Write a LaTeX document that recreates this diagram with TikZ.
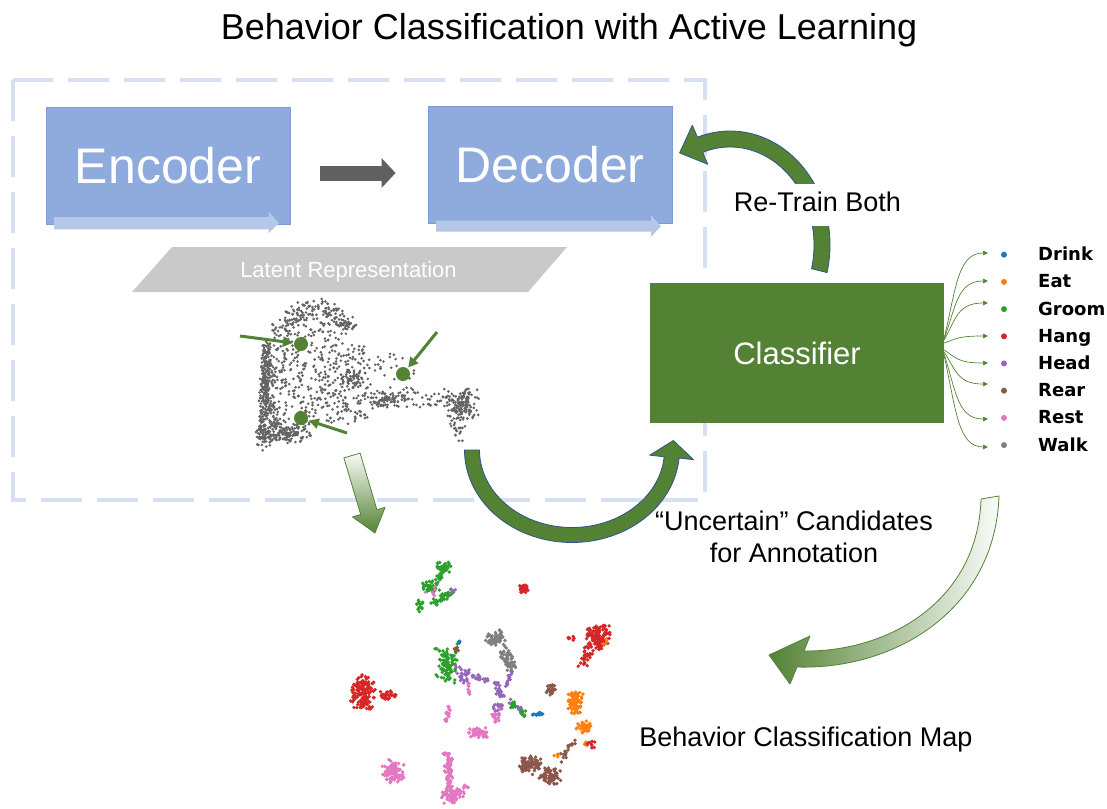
\documentclass[tikz,border=0pt]{standalone}
\usepackage{fontspec}
\setmainfont{Liberation Sans}
\newfontfamily\legendfont{DejaVu Sans}
\usetikzlibrary{arrows.meta,calc}

\definecolor{leafgreen}{HTML}{548235}
\definecolor{rimblue}{HTML}{2F528F}
\definecolor{boxblue}{HTML}{8FAADC}
\definecolor{boxedge}{HTML}{7E9CD3}
\definecolor{barblue}{HTML}{B4C7E7}
\definecolor{frameblue}{HTML}{D6E0F2}
\definecolor{latentgray}{HTML}{C9C9C9}
\definecolor{cloudgray}{HTML}{636363}
\definecolor{arrowgray}{HTML}{606060}
\definecolor{tabblue}{HTML}{1F77B4}
\definecolor{taborange}{HTML}{FF7F0E}
\definecolor{tabgreen}{HTML}{2CA02C}
\definecolor{tabred}{HTML}{D62728}
\definecolor{tabpurple}{HTML}{9467BD}
\definecolor{tabbrown}{HTML}{8C564B}
\definecolor{tabpink}{HTML}{E377C2}
\definecolor{tabgray}{HTML}{7F7F7F}

% random point clouds; dot radius taken from \dotr
\def\dotr{1.3}
% colour, count, centre x, centre y, spread x, spread y (peaked)
\newcommand{\cloud}[6]{%
  \foreach \k in {1,...,#2}{%
    \pgfmathsetmacro\cldx{#3+#5*(rand+rand)*0.7}%
    \pgfmathsetmacro\cldy{#4+#6*(rand+rand)*0.7}%
    \fill[#1] (\cldx,\cldy) circle[radius=\dotr];}}
% colour, count, centre x, centre y, half width, half height (uniform)
\newcommand{\flatcloud}[6]{%
  \foreach \k in {1,...,#2}{%
    \pgfmathsetmacro\cldx{#3+#5*rand}%
    \pgfmathsetmacro\cldy{#4+#6*rand}%
    \fill[#1] (\cldx,\cldy) circle[radius=\dotr];}}
% colour, count, x0, y0, x1, y1, spread (points along a segment)
\newcommand{\linecloud}[7]{%
  \foreach \k in {1,...,#2}{%
    \pgfmathsetmacro\cldt{rnd}%
    \pgfmathsetmacro\cldx{#3+(#5-#3)*\cldt+#7*(rand+rand)*0.7}%
    \pgfmathsetmacro\cldy{#4+(#6-#4)*\cldt+#7*(rand+rand)*0.7}%
    \fill[#1] (\cldx,\cldy) circle[radius=\dotr];}}
% colour, count, cx, cy, radius, angle0, angle1, spread (points along an arc)
\newcommand{\arccloud}[8]{%
  \foreach \k in {1,...,#2}{%
    \pgfmathsetmacro\clda{#6+(#7-#6)*rnd}%
    \pgfmathsetmacro\cldr{#5+#8*(rand+rand)/2}%
    \pgfmathsetmacro\cldx{#3+\cldr*cos(\clda)}%
    \pgfmathsetmacro\cldy{#4+\cldr*sin(\clda)}%
    \fill[#1] (\cldx,\cldy) circle[radius=\dotr];}}

% thick curved arrow along an elliptic arc:
% cx, cy, rx, ry, start angle, end angle, band width, head half width, head length
\newcommand{\bandarrow}[9]{%
  \pgfmathsetmacro\bcx{#1}\pgfmathsetmacro\bcy{#2}%
  \pgfmathsetmacro\brx{#3}\pgfmathsetmacro\bry{#4}%
  \pgfmathsetmacro\ba{#5}\pgfmathsetmacro\bb{#6}%
  \pgfmathsetmacro\bw{(#7)/2}%
  \pgfmathsetmacro\bs{(#6)>(#5) ? 1 : -1}%
  \pgfmathsetmacro\bL{sqrt((\brx*sin(\bb))^2+(\bry*cos(\bb))^2)}%
  \pgfmathsetmacro\btx{\bs*(-\brx*sin(\bb))/\bL}%
  \pgfmathsetmacro\bty{\bs*(\bry*cos(\bb))/\bL}%
  \pgfmathsetmacro\bnx{\bry*cos(\bb)/\bL}%
  \pgfmathsetmacro\bny{\brx*sin(\bb)/\bL}%
  \pgfmathsetmacro\bmx{\bcx+\brx*cos(\bb)}%
  \pgfmathsetmacro\bmy{\bcy+\bry*sin(\bb)}%
  \path[bandarrow]
    plot[domain=\ba:\bb,samples=70] ({\bcx+(\brx+\bw)*cos(\x)},{\bcy+(\bry+\bw)*sin(\x)})
    -- ({\bmx+(#8)*(\bnx)},{\bmy+(#8)*(\bny)})
    -- ({\bmx+(#9)*(\btx)},{\bmy+(#9)*(\bty)})
    -- ({\bmx-(#8)*(\bnx)},{\bmy-(#8)*(\bny)})
    -- plot[domain=\bb:\ba,samples=70] ({\bcx+(\brx-\bw)*cos(\x)},{\bcy+(\bry-\bw)*sin(\x)})
    -- cycle;}

\begin{document}
\begin{tikzpicture}[x=1pt,y=-1pt,
  heading/.style={font=\fontsize{36}{43}\selectfont, anchor=base, inner sep=0pt},
  caption/.style={font=\fontsize{27}{32}\selectfont, anchor=base, inner sep=0pt, align=center},
  netbox/.style={draw=boxedge, line width=0.8pt, fill=boxblue, text=white,
    minimum width=244pt, minimum height=117pt, inner sep=0pt,
    font=\fontsize{50}{60}\selectfont},
  flowbar/.style={fill=barblue},
  clsbox/.style={fill=leafgreen, text=white, minimum width=294pt, minimum height=140pt,
    inner sep=0pt, font=\fontsize{31}{37}\selectfont},
  frame/.style={draw=frameblue, line width=4pt, dash pattern=on 41pt off 15pt},
  bandarrow/.style={fill=leafgreen, draw=rimblue, line width=0.8pt, line join=round},
  fadearrow/.style={draw=leafgreen, line width=0.8pt, line join=round},
  linkarrow/.style={draw=arrowgray, line width=15pt, -{Triangle[length=14pt,width=29pt]}},
  pick/.style={circle, fill=leafgreen, inner sep=0pt, minimum size=14pt},
  pickarrow/.style={draw=leafgreen, line width=3pt, shorten >=1pt,
    -{Triangle[length=10pt,width=10pt]}},
  legendlink/.style={draw=leafgreen, line width=0.7pt, -{Triangle[length=5pt,width=4.5pt]}},
  legenddot/.style={circle, inner sep=0pt, minimum size=6pt},
  legendlabel/.style={font=\legendfont\bfseries\fontsize{18}{22}\selectfont,
    anchor=base west, inner sep=0pt}
]
\useasboundingbox (0,0) rectangle (1107,808);
\pgfmathsetseed{11}

% title
\node[heading] (title) at (569,40) {Behavior Classification with Active Learning};

% dashed frame around the representation learning part
\draw[frame] (13,80) rectangle (705,500);

% encoder / decoder
\node[netbox] (enc) at (168,165.5) {Encoder};
\node[netbox] (dec) at (550,164.5) {Decoder};
\fill[flowbar] (54,217) -- (268.6,217) -- (268.6,211.7) -- (279,223) -- (268.6,233.3)
  -- (268.6,229.3) -- (54,229.3) -- cycle;
\fill[flowbar] (436,220.7) -- (651,220.7) -- (651,215) -- (661,226.2) -- (651,236.7)
  -- (651,231.7) -- (436,231.7) -- cycle;
\draw[linkarrow] ($(enc.east)+(30,7.5)$) -- ($(dec.west)+(-32,8.5)$);

% latent representation banner
\fill[latentgray] (172,247) -- (567,247) -- (528,292) -- (132,292) -- cycle;
\node[font=\fontsize{22}{26}\selectfont, text=white, anchor=base, inner sep=0pt]
  (latent) at (348.5,277.3) {Latent Representation};

% latent point cloud
\def\dotr{1.45}
\linecloud{cloudgray}{260}{267}{345}{262}{443}{4.5}
\linecloud{cloudgray}{120}{273}{360}{270}{440}{9}
\cloud{cloudgray}{150}{284}{433}{22}{8}
\arccloud{cloudgray}{170}{316}{347}{39}{-168}{-20}{12}
\flatcloud{cloudgray}{70}{315}{332}{30}{14}
\flatcloud{cloudgray}{300}{318}{385}{50}{40}
\flatcloud{cloudgray}{110}{365}{380}{50}{27}
\cloud{cloudgray}{70}{385}{400}{13}{8}
\cloud{cloudgray}{35}{350}{378}{10}{7}
\linecloud{cloudgray}{40}{400}{397}{440}{400}{7}
\cloud{cloudgray}{150}{461}{403}{13}{13}
\cloud{cloudgray}{25}{455}{428}{8}{11}

% uncertain samples picked out
\node[pick] (p1) at (301,344) {};
\node[pick] (p2) at (403,374) {};
\node[pick] (p3) at (301,418) {};
\coordinate (q1) at (240,336);
\coordinate (q2) at (437,332);
\coordinate (q3) at (347,433);
\draw[pickarrow] (q1) -- (p1);
\draw[pickarrow] (q2) -- (p2);
\draw[pickarrow] (q3) -- (p3);

% classifier
\node[clsbox] (cls) at (797,353) {Classifier};

% re-train arrow (classifier back to decoder)
\bandarrow{730}{245}{92}{106}{14}{-109}{16}{21}{22}
\node[caption, fill=white, inner xsep=4pt, inner ysep=2pt, text height=26pt, text depth=12pt]
  (retrain) at (817.5,211.7) {Re-Train Both};

% uncertain candidates arrow (latent space to classifier)
\bandarrow{572}{450}{100}{85}{180}{5}{15}{22}{17}
\node[caption] (cand) at (794,530) {“Uncertain” Candidates};
\node[caption] (annot) at (794,562) {for Annotation};

% arrow from latent space down to the map
\path[fadearrow, top color=leafgreen!3, bottom color=leafgreen]
  (343.9,457.9) -- (360.1,453.1) -- (376.9,509.7) -- (385.1,507.3) -- (375,533)
  -- (352.5,516.9) -- (360.7,514.5) -- cycle;

% arrow from classifier output down to the map
\path[fadearrow, left color=leafgreen, right color=leafgreen!3]
  (999,496) .. controls (995,610) and (895,670) .. (797,667) -- (790,684) -- (769,655)
  -- (810,636) -- (804,651) .. controls (890,652) and (978,600) .. (981,499) -- cycle;

\node[caption] (mapcap) at (806,746) {Behavior Classification Map};

% classifier outputs
\foreach \name/\col/\i/\ys/\ye in {Drink/tabblue/0/338/253, Eat/taborange/1/339/281,
    Groom/tabgreen/2/340/303, Hang/tabred/3/343/336, Head/tabpurple/4/350/363,
    Rear/tabbrown/5/352/384, Rest/tabpink/6/354/419, Walk/tabgray/7/356/447}{
  \pgfmathsetmacro\base{260.7+27.2*\i}
  \node[legenddot, fill=\col] (dot\i) at (1004,\base-6) {};
  \node[legendlabel] (lab\i) at (1038,\base) {\name};
  \coordinate (end\i) at (988,\ye);
  \pgfmathsetmacro\rise{0.6*(\ye-\ys)}
  \draw[legendlink] ($(cls.east)+(0,\ys-353)$) .. controls +(12,\rise) and +(-30,0) .. (end\i);
}

% behaviour classification map
\def\dotr{1.9}
\cloud{tabgreen}{40}{443}{567}{6}{4}
\cloud{tabgreen}{14}{439}{577}{3}{3}
\cloud{tabgreen}{40}{430}{587}{7}{6}
\linecloud{tabgreen}{36}{432}{604}{453}{592}{3}
\cloud{tabgreen}{14}{420}{606}{3}{5}
\cloud{tabpink}{6}{433}{592}{9}{6}
\cloud{tabpurple}{4}{452}{591}{3}{2}
\cloud{tabred}{40}{523}{589}{4}{3.5}
\cloud{tabred}{130}{598}{637}{10}{11}
\linecloud{tabred}{30}{592}{646}{582}{664}{4}
\cloud{tabred}{6}{571}{638}{3}{2}
\cloud{taborange}{3}{605}{643}{4}{4}
\cloud{tabred}{150}{363}{692}{10}{14}
\cloud{tabred}{35}{388}{695}{7}{4}
\cloud{tabgray}{60}{495}{638}{8}{7}
\linecloud{tabgray}{55}{503}{650}{513}{668}{5}
\cloud{tabgreen}{95}{447}{664}{9}{15}
\cloud{tabbrown}{6}{456}{650}{3}{3}
\cloud{tabblue}{4}{459}{643}{2}{3}
\linecloud{tabpurple}{35}{454}{668}{487}{681}{3}
\linecloud{tabpurple}{10}{459}{677}{470}{684}{2}
\linecloud{tabpurple}{28}{496}{682}{501}{696}{3}
\linecloud{tabpurple}{14}{512}{670}{506}{688}{2}
\cloud{tabpurple}{20}{498}{707}{4}{5}
\linecloud{tabpurple}{18}{502}{693}{527}{717}{2}
\cloud{tabgreen}{14}{513}{705}{3}{3}
\cloud{tabgreen}{8}{522}{713}{3}{3}
\linecloud{tabblue}{12}{533}{714}{543}{713}{1.5}
\linecloud{tabpink}{16}{449}{707}{446}{722}{2}
\cloud{tabpink}{55}{480}{733}{9}{4}
\cloud{tabpink}{20}{495}{715}{4}{6}
\linecloud{tabpink}{8}{468}{683}{469}{693}{1.5}
\cloud{tabpink}{95}{393}{771}{9}{9}
\linecloud{tabpink}{80}{447}{752}{450}{790}{3.5}
\cloud{tabpink}{70}{453}{795}{9}{7}
\cloud{tabpink}{5}{466}{786}{3}{3}
\cloud{tabbrown}{28}{551}{690}{4}{5}
\cloud{tabbrown}{80}{530}{765}{9}{8}
\cloud{tabbrown}{70}{550}{776}{9}{7}
\linecloud{tabbrown}{20}{562}{760}{574}{741}{3}
\cloud{taborange}{75}{575}{703}{6}{10}
\cloud{taborange}{40}{584}{727}{6}{5}
\cloud{taborange}{10}{587}{743}{3}{3}
\cloud{tabred}{8}{591}{745}{3}{3}
\cloud{taborange}{4}{557}{755}{3}{2}
\end{tikzpicture}
\end{document}
